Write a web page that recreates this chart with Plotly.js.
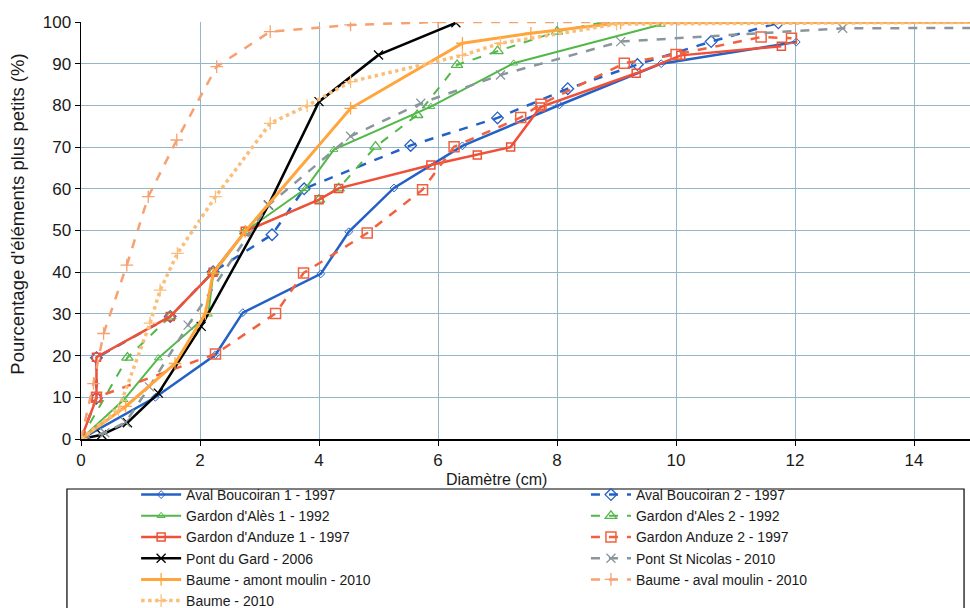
<!DOCTYPE html>
<html>
<head>
<meta charset="utf-8">
<script src="https://cdn.plot.ly/plotly-3.0.1.min.js"></script>
<style>html,body{margin:0;padding:0;background:#fff;}#chart{width:970px;height:608px;}</style>
</head>
<body>
<div id="chart"></div>
<script>
// ---- Data (diameter cm, % finer) ----
const seriesNames = [
  "Aval Boucoiran 1 - 1997", "Aval Boucoiran 2 - 1997",
  "Gardon d'Alès 1 - 1992", "Gardon d'Ales 2 - 1992",
  "Gardon d'Anduze 1 - 1997", "Gardon Anduze 2 - 1997",
  "Pont du Gard - 2006", "Pont St Nicolas - 2010",
  "Baume - amont moulin - 2010", "Baume - aval moulin - 2010",
  "Baume - 2010"
];
const avalB1_x = [0, 1.25, 2.26, 2.72, 4.03, 4.5, 5.26, 6.41, 8.04, 9.75, 12.02];
const avalB1_y = [0, 10, 20.2, 30.3, 39.6, 49.7, 60.2, 70.3, 80.1, 90, 95.2];
const avalB2_x = [0, 0.26, 0.26, 1.5, 2.22, 3.21, 3.75, 5.54, 7.0, 8.18, 9.35, 10.59, 11.72];
const avalB2_y = [0, 9.8, 19.5, 29.4, 40.1, 49, 60, 70.4, 77, 84, 89.8, 95.3, 99.8];
const ales1_x = [0, 0.72, 1.3, 2.14, 2.22, 2.76, 3.77, 4.25, 5.88, 7.27, 9.75];
const ales1_y = [0, 9.4, 19.4, 29.9, 39.5, 49.8, 60, 69.4, 79.7, 90.1, 99.4];
const ales2_x = [0, 0.78, 1.5, 2.22, 2.76, 4.0, 4.33, 4.95, 5.65, 6.32, 7.0, 8.0, 8.8];
const ales2_y = [0, 19.5, 29.4, 40, 49.8, 57.4, 60.1, 70.1, 77.7, 89.7, 93, 97.7, 100];
const anduze1_x = [0, 0.26, 0.26, 1.5, 2.22, 2.76, 4.0, 4.33, 5.88, 6.66, 7.22, 7.72, 9.33, 10.08, 11.77];
const anduze1_y = [0, 9.8, 19.6, 29.4, 40, 49.8, 57.4, 60.1, 65.7, 68.1, 70, 79.6, 87.7, 92, 94.2];
const anduze2_x = [0, 0.26, 2.26, 3.27, 3.74, 4.81, 5.74, 6.27, 7.39, 7.73, 9.13, 10.0, 11.43, 11.94];
const anduze2_y = [0, 10, 20.4, 30.1, 39.8, 49.4, 59.8, 70.1, 77.1, 80.3, 90.1, 92.2, 96.4, 96.1];
const pontGard_x = [0, 0.35, 0.78, 1.3, 2.02, 3.15, 4.0, 5.0, 6.3];
const pontGard_y = [0, 1, 3.9, 11, 27, 56.1, 80.9, 92.1, 99.8];
const pontNic_x = [0, 0.4, 0.75, 1.15, 1.8, 3.15, 4.53, 5.71, 7.05, 9.07, 12.8, 16];
const pontNic_y = [0, 1.5, 4, 12.5, 27.3, 56.1, 72.6, 80.5, 87.3, 95.3, 98.5, 98.6];
const baumeAmont_x = [0, 0.75, 1.58, 2.09, 2.22, 2.76, 4.53, 6.41, 7.56, 9.07, 16];
const baumeAmont_y = [0, 7.8, 18.1, 30.1, 39.8, 49.8, 79.3, 94.9, 97.3, 99.8, 100];
const baumeAval_x = [0, 0.21, 0.38, 0.77, 1.13, 1.61, 2.28, 3.18, 4.53, 6.0, 16];
const baumeAval_y = [0, 13.3, 25.3, 41.7, 58.1, 71.7, 89.3, 97.7, 99.3, 100, 100];
const baume_x = [0, 0.63, 1.16, 1.33, 1.62, 2.26, 3.18, 3.8, 4.53, 6.41, 7.05, 9.0, 16];
const baume_y = [0, 7, 27.8, 35.7, 44.5, 58.1, 75.7, 79.9, 85.7, 92, 94.9, 99.5, 100];
const xTicks = [0, 2, 4, 6, 8, 10, 12, 14];
const yTicks = [0, 10, 20, 30, 40, 50, 60, 70, 80, 90, 100];

const blue = "#2461C6", green = "#52B848", red = "#EF5038", red2 = "#F2613F",
      black = "#000000", gray = "#8A969C", orange = "#FFA53C", salmon = "#F7A070", lorange = "#FBBE7A";

function tr(name, x, y, color, dash, width, symbol, msize, mline, legendId) {
  return {
    type: "scatter", mode: "lines+markers", name: name, x: x, y: y,
    legend: legendId,
    line: {color: color, dash: dash, width: width},
    marker: {symbol: symbol, size: msize, color: color, line: {color: color, width: mline}},
    cliponaxis: true
  };
}

const data = [
  tr(seriesNames[0], avalB1_x, avalB1_y, blue, "solid", 2.5, "diamond-open", 6, 1, "legend"),
  tr(seriesNames[1], avalB2_x, avalB2_y, blue, "dash", 2.5, "diamond-open", 9, 1.3, "legend2"),
  tr(seriesNames[2], ales1_x, ales1_y, green, "solid", 2, "triangle-up-open", 7, 1, "legend"),
  tr(seriesNames[3], ales2_x, ales2_y, green, "dash", 2, "triangle-up-open", 10, 1.3, "legend2"),
  tr(seriesNames[4], anduze1_x, anduze1_y, red, "solid", 2.5, "square-open", 8, 1.5, "legend"),
  tr(seriesNames[5], anduze2_x, anduze2_y, red2, "dash", 2.5, "square-open", 10, 1.5, "legend2"),
  tr(seriesNames[6], pontGard_x, pontGard_y, black, "solid", 2.5, "x-thin-open", 9, 1.3, "legend"),
  tr(seriesNames[7], pontNic_x, pontNic_y, gray, "dash", 2.5, "x-thin-open", 9, 1.3, "legend2"),
  tr(seriesNames[8], baumeAmont_x, baumeAmont_y, orange, "solid", 3, "cross-thin-open", 9, 1.3, "legend"),
  tr(seriesNames[9], baumeAval_x, baumeAval_y, salmon, "dash", 2.5, "cross-thin-open", 9, 1.3, "legend2"),
  tr(seriesNames[10], baume_x, baume_y, lorange, "dot", 3.5, "cross-thin-open", 9, 1.3, "legend")
];

const legendCommon = {
  orientation: "v", xanchor: "left", yanchor: "top",
  font: {size: 14, color: "#1a1a1a"},
  bgcolor: "rgba(0,0,0,0)", borderwidth: 0, tracegroupgap: 0, itemwidth: 40
};

const layout = {
  width: 970, height: 608,
  margin: {l: 81, r: 0, t: 22, b: 169, pad: 0, autoexpand: false},
  paper_bgcolor: "#ffffff", plot_bgcolor: "#ffffff",
  font: {family: "Liberation Sans, Arial, sans-serif", size: 15, color: "#1a1a1a"},
  showlegend: true,
  xaxis: {
    range: [0, 14.94], tickvals: xTicks, ticktext: xTicks.map(String),
    showgrid: true, gridcolor: "#93B6C8", gridwidth: 1,
    zeroline: false, showline: true, linecolor: "#000", linewidth: 1.5,
    ticks: "outside", ticklen: 5, tickcolor: "#000",
    tickfont: {size: 17}, automargin: false
  },
  yaxis: {
    range: [0, 100], tickvals: yTicks, ticktext: yTicks.map(String),
    showgrid: true, gridcolor: "#93B6C8", gridwidth: 1,
    zeroline: false, showline: true, linecolor: "#000", linewidth: 1.5,
    ticks: "outside", ticklen: 5, tickcolor: "#000",
    tickfont: {size: 17}, automargin: false
  },
  legend: Object.assign({}, legendCommon, {x: 0.062, y: -0.0959}),
  legend2: Object.assign({}, legendCommon, {x: 0.568, y: -0.0959}),
  shapes: [{
    type: "rect", xref: "paper", yref: "paper",
    x0: -0.0158, x1: 0.9933, y0: -0.45, y1: -0.1199,
    line: {color: "#000", width: 1.2}, fillcolor: "rgba(0,0,0,0)", layer: "below"
  }],
  annotations: [
    {text: "Diamètre (cm)", xref: "paper", yref: "paper", x: 0.467, y: -0.098,
     xanchor: "center", yanchor: "middle", showarrow: false, font: {size: 16}},
    {text: "Pourcentage d'éléments plus petits (%)", xref: "paper", yref: "paper",
     x: -0.071, y: 0.54, xanchor: "center", yanchor: "middle", textangle: -90,
     showarrow: false, font: {size: 18.5}}
  ]
};

Plotly.newPlot("chart", data, layout, {displayModeBar: false, staticPlot: true});
</script>
</body>
</html>
